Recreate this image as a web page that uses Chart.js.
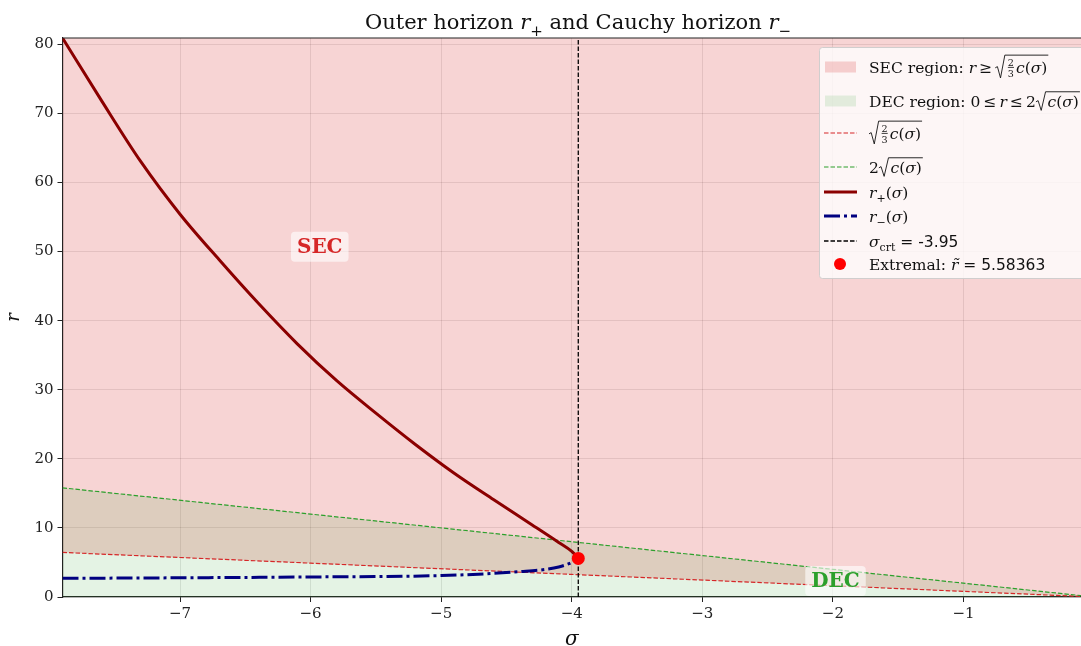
<!DOCTYPE html>
<html>
<head>
<meta charset="utf-8">
<script src="https://cdn.jsdelivr.net/npm/chart.js@4.4.0/dist/chart.umd.min.js"></script>
<style>
  html, body { margin: 0; padding: 0; background: #fff; overflow: hidden; }
  #wrap { width: 1081px; height: 646px; }
</style>
</head>
<body>
<div id="wrap"><canvas id="horizons" width="1081" height="646"></canvas></div>
<script>
// values
var sigmaBounds = [-7.9, -6, -4, -2, -0.1];
var secBoundary = [6.45, 4.9, 3.27, 1.63, 0.08];   // sqrt(2/3 c(sigma))
var decBoundary = [15.8, 12.0, 8.0, 4.0, 0.2];     // 2 sqrt(c(sigma))

var sigmaPlus = [-7.9, -7.6, -7.3, -7.0, -6.7, -6.4, -6.1, -5.8, -5.5, -5.2, -4.9, -4.6, -4.3, -4.1, -4.0, -3.95];
var rPlus = [80.9, 71.8, 63.0, 55.4, 48.8, 42.5, 36.6, 31.3, 26.6, 22.1, 17.9, 14.1, 10.4, 7.9, 6.6, 5.58];

var sigmaMinus = [-7.9, -7.0, -6.0, -5.0, -4.6, -4.4, -4.2, -4.1, -4.0, -3.95];
var rMinus = [2.70, 2.78, 2.9, 3.1, 3.42, 3.67, 4.0, 4.35, 5.0, 5.58];

var sigmaCrit = -3.95;
var rExtremal = 5.58363;

var xRange = [-7.9, -0.1];
var yRange = [0, 80.9];

function pts(xs, ys) {
    return xs.map(function(x, i) { return {x: x, y: ys[i]}; });
}

var SERIF = '"DejaVu Serif"';

// tiny math-ish text renderer for the title and legend
function rich(ctx, toks, x, y, fs, draw) {
    var cx = x;
    toks.forEach(function(tk) {
        if (typeof tk === 'string' || tk.it !== undefined || tk.sans !== undefined || tk.sub !== undefined) {
            var s, f, dy = 0;
            if (typeof tk === 'string') { s = tk; f = fs + 'px ' + SERIF; }
            else if (tk.it !== undefined) { s = tk.it; f = 'italic ' + fs + 'px ' + SERIF; }
            else if (tk.sans !== undefined) { s = tk.sans; f = fs + 'px "DejaVu Sans"'; }
            else { s = tk.sub; f = Math.round(fs * 0.7) + 'px ' + SERIF; dy = fs * 0.32; }
            ctx.font = f;
            if (draw) ctx.fillText(s, cx, y + dy);
            cx += ctx.measureText(s).width;
        } else if (tk.frac) {
            ctx.font = (fs * 0.62) + 'px ' + SERIF;
            var w = Math.max(ctx.measureText(tk.frac[0]).width, ctx.measureText(tk.frac[1]).width) + 2;
            if (draw) {
                ctx.textAlign = 'center';
                ctx.fillText(tk.frac[0], cx + w / 2, y - fs * 0.45);
                ctx.fillText(tk.frac[1], cx + w / 2, y + fs * 0.26);
                ctx.textAlign = 'left';
                ctx.fillRect(cx + 1, y - fs * 0.36, w - 2, 0.8);
            }
            cx += w + 1;
        } else if (tk.sqrt) {
            var tall = tk.sqrt.some(function(t) { return t.frac; });
            var inner = rich(ctx, tk.sqrt, 0, 0, fs, false);
            var top = y - fs * (tall ? 1.12 : 0.95);
            var bot = y + fs * (tall ? 0.35 : 0.25);
            var rw = fs * 0.62;
            if (draw) {
                ctx.lineWidth = 0.9;
                ctx.beginPath();
                ctx.moveTo(cx, y - fs * 0.3);
                ctx.lineTo(cx + fs * 0.14, y - fs * 0.38);
                ctx.lineTo(cx + fs * 0.34, bot);
                ctx.lineTo(cx + rw, top);
                ctx.lineTo(cx + rw + inner + 3, top);
                ctx.stroke();
                rich(ctx, tk.sqrt, cx + rw + 2, y, fs, true);
            }
            cx += rw + inner + 4;
        }
    });
    return cx - x;
}

var cSig = [{it: 'c'}, '(', {it: 'σ'}, ')'];
var legendItems = [
    {kind: 'patch', color: 'rgba(214,39,40,0.2)', y: 67,
     text: ['SEC region: ', {it: 'r'}, '\u2009≥\u2009', {sqrt: [{frac: ['2', '3']}].concat(cSig)}]},
    {kind: 'patch', color: 'rgba(44,160,44,0.13)', y: 101,
     text: ['DEC region: 0\u2009≤\u2009', {it: 'r'}, '\u2009≤\u20092', {sqrt: cSig}]},
    {kind: 'line', color: '#d62728', width: 1.2, dash: [4.5, 2], y: 133,
     text: [{sqrt: [{frac: ['2', '3']}].concat(cSig)}]},
    {kind: 'line', color: '#2ca02c', width: 1.2, dash: [4.5, 2], y: 167,
     text: ['2', {sqrt: cSig}]},
    {kind: 'line', color: '#8b0000', width: 3, dash: [], y: 192,
     text: [{it: 'r'}, {sub: '+'}, '(', {it: 'σ'}, ')']},
    {kind: 'line', color: '#000080', width: 3, dash: [16, 4, 3, 4], y: 216,
     text: [{it: 'r'}, {sub: '−'}, '(', {it: 'σ'}, ')']},
    {kind: 'line', color: '#000000', width: 1.3, dash: [4.5, 2], y: 241,
     text: [{it: 'σ'}, {sub: 'crt'}, {sans: ' = -3.95'}]},
    {kind: 'dot', color: '#ff0000', y: 264,
     text: ['Extremal: ', {it: 'r\u0303'}, {sans: ' = ' + rExtremal}]}
];

function roundBox(ctx, x, y, w, h, r) {
    ctx.beginPath();
    ctx.moveTo(x + r, y);
    ctx.lineTo(x + w - r, y);
    ctx.quadraticCurveTo(x + w, y, x + w, y + r);
    ctx.lineTo(x + w, y + h - r);
    ctx.quadraticCurveTo(x + w, y + h, x + w - r, y + h);
    ctx.lineTo(x + r, y + h);
    ctx.quadraticCurveTo(x, y + h, x, y + h - r);
    ctx.lineTo(x, y + r);
    ctx.quadraticCurveTo(x, y, x + r, y);
    ctx.closePath();
}

function regionLabel(chart, text, sx, ry, color) {
    var ctx = chart.ctx;
    var px = chart.scales.x.getPixelForValue(sx);
    var py = chart.scales.y.getPixelForValue(ry);
    ctx.save();
    ctx.font = 'bold 20px ' + SERIF;
    var w = ctx.measureText(text).width;
    ctx.fillStyle = 'rgba(255,255,255,0.6)';
    roundBox(ctx, px - w / 2 - 6, py - 15, w + 12, 30, 4);
    ctx.fill();
    ctx.fillStyle = color;
    ctx.textAlign = 'center';
    ctx.textBaseline = 'middle';
    ctx.fillText(text, px, py + 1);
    ctx.restore();
}

var decorations = {
    id: 'decorations',
    afterDatasetsDraw: function(chart) {
        regionLabel(chart, 'SEC', -5.93, 50.7, '#d62728');
        regionLabel(chart, 'DEC', -1.98, 2.3, '#2ca02c');
    },
    afterDraw: function(chart) {
        var ctx = chart.ctx, area = chart.chartArea;
        ctx.save();
        // top spine
        ctx.strokeStyle = '#222';
        ctx.lineWidth = 1.2;
        ctx.beginPath();
        ctx.moveTo(area.left, area.top);
        ctx.lineTo(area.right + 2, area.top);
        ctx.stroke();

        // title
        var titleToks = ['Outer horizon ', {it: 'r'}, {sub: '+'}, ' and Cauchy horizon ', {it: 'r'}, {sub: '−'}];
        ctx.fillStyle = '#111';
        ctx.textBaseline = 'alphabetic';
        var tw = rich(ctx, titleToks, 0, 0, 21, false);
        rich(ctx, titleToks, 578 - tw / 2, 29, 21, true);

        // legend
        ctx.fillStyle = 'rgba(255,255,255,0.8)';
        ctx.strokeStyle = 'rgba(204,204,204,0.9)';
        ctx.lineWidth = 1;
        roundBox(ctx, 819.5, 47.5, 280, 231, 3);
        ctx.fill();
        ctx.stroke();
        legendItems.forEach(function(it) {
            if (it.kind === 'patch') {
                ctx.fillStyle = it.color;
                ctx.fillRect(825, it.y - 5.5, 31, 11);
            } else if (it.kind === 'line') {
                ctx.strokeStyle = it.color;
                ctx.lineWidth = it.width;
                ctx.setLineDash(it.dash);
                ctx.beginPath();
                ctx.moveTo(824, it.y);
                ctx.lineTo(857, it.y);
                ctx.stroke();
                ctx.setLineDash([]);
            } else {
                ctx.fillStyle = it.color;
                ctx.beginPath();
                ctx.arc(840, it.y, 6, 0, Math.PI * 2);
                ctx.fill();
            }
            ctx.fillStyle = '#111';
            ctx.strokeStyle = '#111';
            rich(ctx, it.text, 869, it.y + 5.5, 15.5, true);
        });
        ctx.restore();
    }
};

var ctx = document.getElementById('horizons').getContext('2d');
var myChart = new Chart(ctx, {
    type: 'line',
    data: {
        datasets: [
            {
                label: 'SEC region',
                data: pts(sigmaBounds, secBoundary),
                borderColor: '#d62728',
                borderWidth: 1.2,
                borderDash: [4.5, 2],
                backgroundColor: 'rgba(214,39,40,0.2)',
                fill: 'end',
                pointRadius: 0,
                order: 6
            },
            {
                label: 'DEC region',
                data: pts(sigmaBounds, decBoundary),
                borderColor: '#2ca02c',
                borderWidth: 1.2,
                borderDash: [4.5, 2],
                backgroundColor: 'rgba(44,160,44,0.13)',
                fill: 'origin',
                pointRadius: 0,
                order: 5
            },
            {
                label: 'r-',
                data: pts(sigmaMinus, rMinus),
                borderColor: '#000080',
                borderWidth: 3,
                borderDash: [16, 4, 3, 4],
                cubicInterpolationMode: 'monotone',
                fill: false,
                pointRadius: 0,
                order: 3
            },
            {
                label: 'r+',
                data: pts(sigmaPlus, rPlus),
                borderColor: '#8b0000',
                borderWidth: 3,
                cubicInterpolationMode: 'monotone',
                fill: false,
                pointRadius: 0,
                order: 2
            },
            {
                label: 'sigma crt',
                data: [{x: sigmaCrit, y: yRange[0]}, {x: sigmaCrit, y: yRange[1]}],
                borderColor: '#000000',
                borderWidth: 1.3,
                borderDash: [4.5, 2],
                fill: false,
                pointRadius: 0,
                order: 1
            },
            {
                label: 'Extremal',
                data: [{x: sigmaCrit, y: rExtremal}],
                showLine: false,
                pointRadius: 6.5,
                pointBackgroundColor: '#ff0000',
                pointBorderWidth: 0,
                order: 0
            }
        ]
    },
    options: {
        responsive: false,
        animation: false,
        layout: { autoPadding: false, padding: { top: 38, right: 0, left: 0, bottom: 0 } },
        plugins: {
            legend: { display: false },
            title: { display: false },
            tooltip: { enabled: false },
            filler: { drawTime: 'beforeDatasetsDraw' }
        },
        scales: {
            x: {
                type: 'linear',
                min: xRange[0],
                max: xRange[1],
                afterFit: function(scale) { scale.height = 49; },
                ticks: {
                    stepSize: 1,
                    includeBounds: false,
                    maxRotation: 0,
                    padding: 3,
                    color: '#222',
                    font: { family: 'DejaVu Serif', size: 15 },
                    callback: function(v) { return v < 0 ? '\u2212' + Math.abs(v) : '' + v; }
                },
                grid: { color: 'rgba(0,0,0,0.1)', tickColor: '#222', tickLength: 5, lineWidth: 1 },
                border: { color: '#222', width: 1.2 },
                title: {
                    display: true,
                    text: 'σ',
                    color: '#111',
                    font: { family: 'DejaVu Serif', size: 20, style: 'italic', lineHeight: 1 },
                    padding: { top: 0, bottom: -4 }
                }
            },
            y: {
                type: 'linear',
                min: yRange[0],
                max: yRange[1],
                afterFit: function(scale) { scale.width = 62.5; },
                ticks: {
                    stepSize: 10,
                    includeBounds: false,
                    padding: 4,
                    color: '#222',
                    font: { family: 'DejaVu Serif', size: 15 }
                },
                grid: { color: 'rgba(0,0,0,0.1)', tickColor: '#222', tickLength: 5, lineWidth: 1 },
                border: { color: '#222', width: 1.2 },
                title: {
                    display: true,
                    text: 'r',
                    color: '#111',
                    font: { family: 'DejaVu Serif', size: 18, style: 'italic', lineHeight: 1 },
                    padding: { top: 5, bottom: 0 }
                }
            }
        }
    },
    plugins: [decorations]
});
</script>
</body>
</html>
